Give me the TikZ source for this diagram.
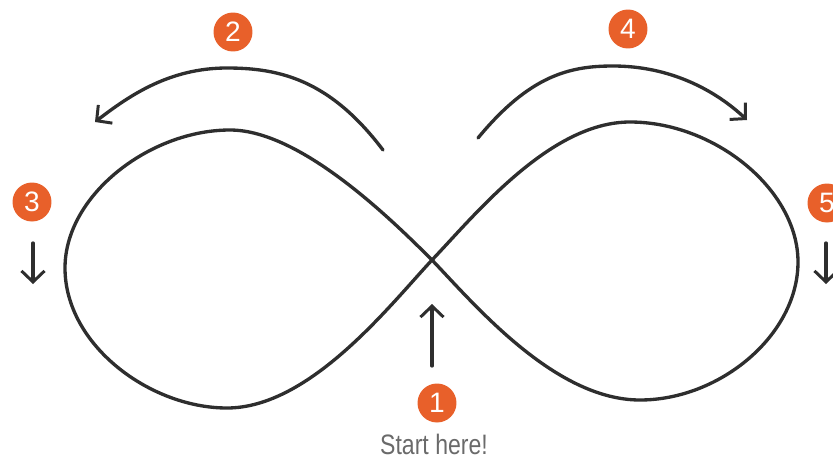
\documentclass[tikz,border=0pt]{standalone}
\usepackage{fontspec}
\setmainfont{Liberation Sans}
\usepackage{tikz}
\usetikzlibrary{arrows.meta}
\definecolor{ocol}{HTML}{E8602A}
\definecolor{lcol}{HTML}{2E2E2E}
\definecolor{tcol}{HTML}{6A6A6A}

\tikzset{
  badge/.style={circle, fill=ocol, text=white, inner sep=0pt, minimum size=0.78cm,
    font=\fontsize{16}{16}\selectfont},
  pen/.style={lcol, line width=1.9pt, line cap=round, line join=round},
  hint/.style={pen, -{Straight Barb[length=2.2mm, width=4.6mm, line width=1.7pt]}}
}

\begin{document}
\begin{tikzpicture}[x=0.02cm, y=-0.02cm]
\useasboundingbox (0,0) rectangle (833,467);
% crossing point and lobe extremes
\coordinate (c) at (432,260);
\coordinate (lt) at (230,130);
\coordinate (lw) at (65,268);
\coordinate (lb) at (227,408);
\coordinate (rt) at (630,122);
\coordinate (re) at (798,262);
\coordinate (rb) at (640,400);
\draw[pen] (c) .. controls (390,218) and (300,130) .. (lt)
  .. controls (150,130) and (65,195) .. (lw)
  .. controls (65,345) and (150,408) .. (lb)
  .. controls (310,408) and (390,305) .. (c)
  .. controls (475,215) and (550,122) .. (rt)
  .. controls (715,122) and (798,190) .. (re)
  .. controls (798,335) and (720,400) .. (rb)
  .. controls (555,400) and (475,305) .. (c);
% numbered steps
\node[badge] (n1) at (437,403) {1};
\node[badge] (n2) at (233,32) {2};
\node[badge] (n3) at (32,202) {3};
\node[badge] (n4) at (628,29) {4};
\node[badge] (n5) at (827,203) {5};
\node[tcol, font=\fontsize{16}{16}\selectfont, xscale=0.82] (start) at (434,444) {Start here!};
% direction hints
\coordinate (a1s) at (432,366);
\coordinate (a1e) at (432,304);
\draw[hint] (a1s) -- (a1e);
\coordinate (a2s) at (383,150);
\coordinate (a2m) at (227,68);
\coordinate (a2e) at (95,122);
\draw[hint] (a2s) .. controls (330,80) and (280,68) .. (a2m)
  .. controls (170,68) and (130,95) .. (a2e);
\coordinate (a3s) at (33,243);
\coordinate (a3e) at (33,284);
\draw[hint] (a3s) -- (a3e);
\coordinate (a4s) at (478,138);
\coordinate (a4m) at (613,66);
\coordinate (a4e) at (747,120);
\draw[hint] (a4s) .. controls (530,75) and (570,66) .. (a4m)
  .. controls (670,66) and (715,90) .. (a4e);
\coordinate (a5s) at (826,243);
\coordinate (a5e) at (826,284);
\draw[hint] (a5s) -- (a5e);
\end{tikzpicture}
\end{document}
